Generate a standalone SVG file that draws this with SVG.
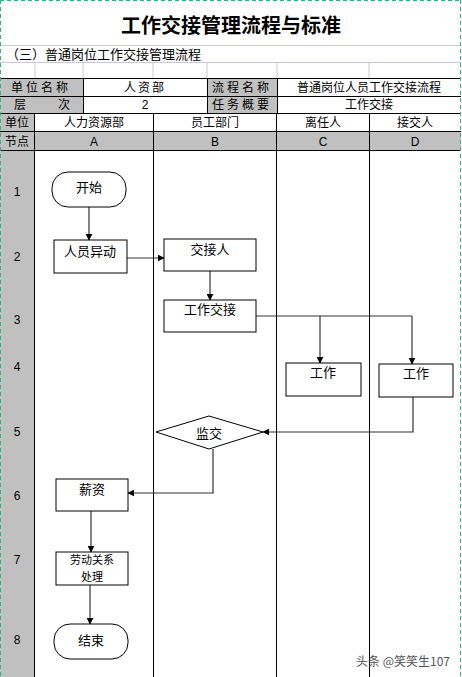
<svg xmlns="http://www.w3.org/2000/svg" width="462" height="677" viewBox="0 0 462 677">
<style>
text{font-family:"Noto Sans CJK SC","Liberation Sans",sans-serif;fill:#000;}
.t{font-size:13px;text-anchor:middle;}
.s{font-size:12px;text-anchor:middle;}
.n{font-size:12px;text-anchor:middle;font-family:"Liberation Sans","Noto Sans CJK SC",sans-serif;}
.g{fill:#c0c0c0;}
.grid{stroke:#c8c8d8;stroke-width:1;fill:none;}
.bl{stroke:#000;stroke-width:1;fill:none;}
.box{fill:#fff;stroke:#000;stroke-width:1;}
.c{stroke:#333;stroke-width:1.2;fill:none;marker-end:url(#ah);}
.cl{stroke:#333;stroke-width:1.2;fill:none;}
</style>
<defs>
<marker id="ah" viewBox="0 0 10 10" refX="9" refY="5" markerWidth="7" markerHeight="7" orient="auto" markerUnits="userSpaceOnUse">
<path d="M0,0 L10,5 L0,10 z" fill="#000"/>
</marker>
</defs>
<rect x="0" y="0" width="462" height="677" fill="#fff"/>
<g id="header">
<line class="grid" x1="0" y1="45.5" x2="461" y2="45.5"/>
<line class="grid" x1="0" y1="62.5" x2="461" y2="62.5"/>
<g class="grid">
<line x1="35" y1="62" x2="35" y2="78"/>
<line x1="83" y1="62" x2="83" y2="78"/>
<line x1="153" y1="62" x2="153" y2="78"/>
<line x1="207" y1="62" x2="207" y2="78"/>
<line x1="277" y1="62" x2="277" y2="78"/>
<line x1="369" y1="62" x2="369" y2="78"/>
</g>
<text x="231" y="33" style="font-size:20px;font-weight:bold;text-anchor:middle;">工作交接管理流程与标准</text>
<text x="6" y="59" style="font-size:13px;">（三）普通岗位工作交接管理流程</text>
<rect class="g" x="0" y="78" width="83" height="36"/>
<rect class="g" x="207" y="78" width="70" height="36"/>
<rect class="g" x="0" y="114" width="35" height="563"/>
<rect class="g" x="35" y="132" width="426" height="18"/>
<g class="bl">
<line x1="0" y1="78.5" x2="461" y2="78.5"/>
<line x1="0" y1="96.5" x2="461" y2="96.5"/>
<line x1="0" y1="113.5" x2="461" y2="113.5"/>
<line x1="0" y1="131.5" x2="461" y2="131.5"/>
<line x1="0" y1="150.5" x2="461" y2="150.5"/>
<line x1="83.5" y1="78" x2="83.5" y2="114"/>
<line x1="207.5" y1="78" x2="207.5" y2="114"/>
<line x1="277.5" y1="78" x2="277.5" y2="114"/>
<line x1="34.5" y1="114" x2="34.5" y2="677"/>
<line x1="153.5" y1="114" x2="153.5" y2="677"/>
<line x1="276.5" y1="114" x2="276.5" y2="677"/>
<line x1="369.5" y1="114" x2="369.5" y2="677"/>
</g>
<text class="s" x="41" y="92" style="letter-spacing:3px;">单位名称</text>
<text class="s" x="145" y="92" style="letter-spacing:2px;">人资部</text>
<text class="s" x="242" y="92" style="letter-spacing:3px;">流程名称</text>
<text class="s" x="369" y="92">普通岗位人员工作交接流程</text>
<text class="s" x="20" y="109">层</text>
<text class="s" x="64" y="109">次</text>
<text class="n" x="145" y="109">2</text>
<text class="s" x="242" y="109" style="letter-spacing:3px;">任务概要</text>
<text class="s" x="369" y="109">工作交接</text>
<text class="s" x="17" y="127">单位</text>
<text class="s" x="94" y="127">人力资源部</text>
<text class="s" x="215" y="127">员工部门</text>
<text class="s" x="323" y="127">离任人</text>
<text class="s" x="415" y="127">接交人</text>
<text class="s" x="17" y="146">节点</text>
<text class="n" x="94" y="146">A</text>
<text class="n" x="215" y="146">B</text>
<text class="n" x="323" y="146">C</text>
<text class="n" x="415" y="146">D</text>
<text class="n" x="17" y="196">1</text>
<text class="n" x="17" y="261">2</text>
<text class="n" x="17" y="324">3</text>
<text class="n" x="17" y="371">4</text>
<text class="n" x="17" y="436">5</text>
<text class="n" x="17" y="500">6</text>
<text class="n" x="17" y="564">7</text>
<text class="n" x="17" y="644">8</text>
</g>
<g id="connectors">
<line class="c" x1="89" y1="207" x2="89" y2="240"/>
<line class="c" x1="127" y1="258" x2="164" y2="258"/>
<line class="c" x1="210" y1="271" x2="210" y2="300"/>
<polyline class="cl" points="256,316 412,316"/>
<line class="c" x1="320" y1="316" x2="320" y2="363"/>
<line class="c" x1="412" y1="316" x2="412" y2="364"/>
<polyline class="c" points="413,397 413,432 263,432"/>
<polyline class="c" points="213,449 213,493 128,493"/>
<line class="c" x1="91" y1="511" x2="91" y2="552"/>
<line class="c" x1="90" y1="585" x2="90" y2="624"/>
</g>
<g id="start"><rect class="box" x="52" y="172" width="74" height="35" rx="16"/><text class="t" x="89" y="192">开始</text></g>
<g id="yidong"><rect class="box" x="54" y="240" width="73" height="33"/><text class="t" x="90" y="256">人员异动</text></g>
<g id="jiejieren"><rect class="box" x="164" y="239" width="92" height="32"/><text class="t" x="210" y="254">交接人</text></g>
<g id="gongzuojiaojie"><rect class="box" x="164" y="300" width="92" height="32"/><text class="t" x="210" y="314">工作交接</text></g>
<g id="workC"><rect class="box" x="286" y="363" width="75" height="33"/><text class="t" x="323" y="377">工作</text></g>
<g id="workD"><rect class="box" x="379" y="364" width="74" height="33"/><text class="t" x="416" y="378">工作</text></g>
<g id="jianjiao"><polygon class="box" points="156,432 209,416 263,432 209,449"/><text class="t" x="209" y="438">监交</text></g>
<g id="xinzi"><rect class="box" x="56" y="479" width="72" height="32"/><text class="t" x="92" y="494">薪资</text></g>
<g id="laodong"><rect class="box" x="56" y="552" width="72" height="33"/><text x="92" y="564" style="font-size:11px;text-anchor:middle;"><tspan x="92">劳动关系</tspan><tspan x="92" dy="17">处理</tspan></text></g>
<g id="end"><rect class="box" x="54" y="624" width="74" height="35" rx="16"/><text class="t" x="91" y="645">结束</text></g>
<text x="356" y="666" style="font-size:12px;fill:#555;">头条 @笑笑生107</text>
<g stroke="#2db87a" stroke-width="1" stroke-dasharray="4,3" fill="none">
<line x1="0" y1="0.5" x2="462" y2="0.5"/>
<line x1="0.5" y1="0" x2="0.5" y2="677"/>
<line x1="460.5" y1="0" x2="460.5" y2="677"/>
</g>
</svg>
